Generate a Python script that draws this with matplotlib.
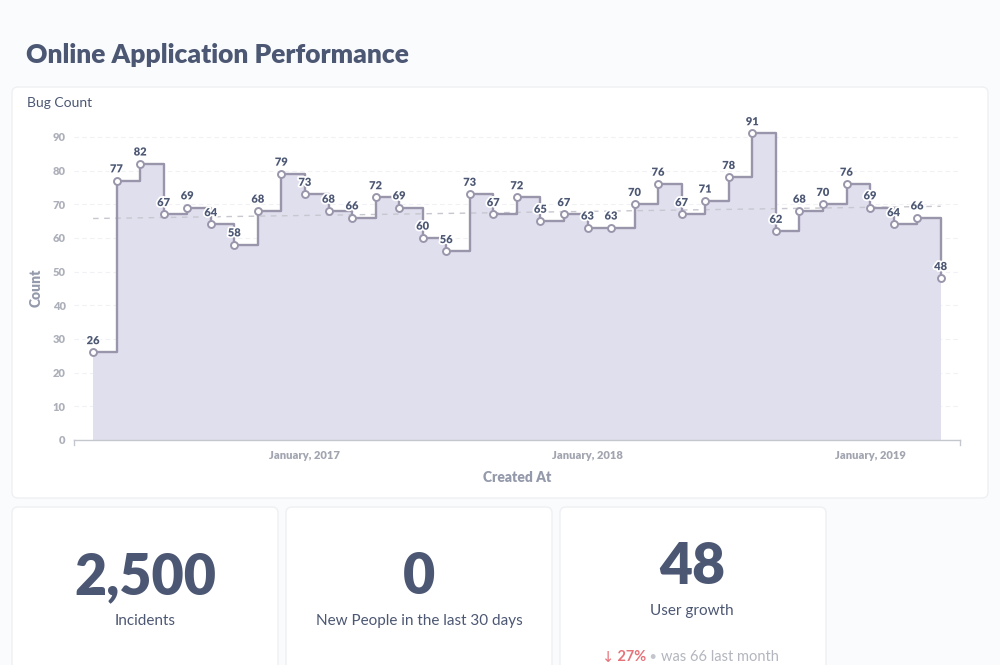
import numpy as np
import pandas as pd
import matplotlib
matplotlib.use("Agg")
import matplotlib.pyplot as plt
from matplotlib.patches import FancyBboxPatch
import matplotlib.patheffects as pe

plt.rcParams['font.family'] = ['Lato', 'DejaVu Sans']

# dados
months = pd.period_range('2016-04', '2019-04', freq='M')
bug_counts = [26, 77, 82, 67, 69, 64, 58, 68, 79, 73, 68, 66, 72, 69, 60, 56,
              73, 67, 72, 65, 67, 63, 63, 70, 76, 67, 71, 78, 91, 62, 68, 70,
              76, 69, 64, 66, 48]
y_ticks = [0, 10, 20, 30, 40, 50, 60, 70, 80, 90]

incidents = 2500
new_people = 0
user_growth = 48
last_month = 66

# cores
bg_color = '#f9fbfc'
text_dark = '#4c5773'
line_color = '#9996ab'
fill_color = '#e0dfee'
axis_gray = '#adb0ba'
red = '#e5737a'

fig = plt.figure(figsize=(10, 6.65), dpi=100, facecolor=bg_color)

# eixo de fundo em pixels
bg = fig.add_axes([0, 0, 1, 1])
bg.set_xlim(0, 1000)
bg.set_ylim(665, 0)
bg.axis('off')


def card(x0, y0, x1, y1):
    bg.add_patch(FancyBboxPatch((x0, y0), x1 - x0, y1 - y0,
                                boxstyle='round,pad=0,rounding_size=6',
                                fc='white', ec='#eef0f3', lw=1))


card(12, 87, 988, 498)
card(12, 507, 278, 700)
card(286, 507, 552, 700)
card(560, 507, 826, 700)

bg.text(26, 55, 'Online Application Performance', fontsize=19, fontweight='heavy',
        color=text_dark, va='center', ha='left')
bg.text(27, 103, 'Bug Count', fontsize=10, color=text_dark, va='center', ha='left')

# cartões de números
bg.text(145, 577, f'{incidents:,}', fontsize=40, fontweight='heavy', color=text_dark,
        ha='center', va='center')
bg.text(145, 621, 'Incidents', fontsize=11, color=text_dark, ha='center', va='center')

bg.text(419, 577, f'{new_people:,}', fontsize=40, fontweight='heavy', color=text_dark,
        ha='center', va='center')
bg.text(419, 621, 'New People in the last 30 days', fontsize=11, color=text_dark,
        ha='center', va='center')

bg.text(692, 567, f'{user_growth:,}', fontsize=41, fontweight='heavy', color=text_dark,
        ha='center', va='center')
bg.text(692, 611, 'User growth', fontsize=11, color=text_dark, ha='center', va='center')

change = round((user_growth - last_month) / last_month * 100)
t1 = bg.text(602, 657, '↓', fontsize=10.5, color=red, ha='left', va='center',
             family=['DejaVu Sans'])
t2 = bg.annotate(f' {abs(change)}%', xy=(1, 0.5), xycoords=t1, fontsize=10.5,
                 fontweight='bold', color=red, va='center', ha='left')
t3 = bg.annotate(' • ', xy=(1, 0.5), xycoords=t2, fontsize=9.5, color='#c3c6cd',
                 va='center', ha='left')
bg.annotate(f'was {last_month} last month', xy=(1, 0.5), xycoords=t3, fontsize=10.5,
            color='#b3b6be', va='center', ha='left')

# gráfico principal
ax = fig.add_axes([74 / 1000, 1 - 440 / 665, 886 / 1000, 320 / 665])
ax.patch.set_alpha(0)
x = np.arange(len(bug_counts))
y = np.array(bug_counts)

ax.fill_between(x, y, 0, step='post', color=fill_color, lw=0, zorder=1)
ax.step(x, y, where='post', color=line_color, lw=1.7, zorder=3)

# tendência
coef = np.polyfit(x, y, 1)
ax.plot([x[0], x[-1]], np.polyval(coef, [x[0], x[-1]]), color='#c6c7cf', lw=1,
        dashes=(4, 4), zorder=2)

ax.plot(x, y, 'o', ms=5, mfc='white', mec=line_color, mew=1.4, zorder=4)

for xi, v in zip(x, bug_counts):
    ax.annotate(str(v), (xi, v), xytext=(0, 4.5), textcoords='offset points',
                ha='center', va='bottom', fontsize=8, fontweight='heavy',
                color=text_dark, zorder=5,
                path_effects=[pe.withStroke(linewidth=2.5, foreground='white')])

ax.set_xlim(-0.81, 36.82)
ax.set_ylim(0, 95)
ax.set_yticks(y_ticks)
ax.set_yticklabels([str(t) for t in y_ticks])
jan = [i for i, m in enumerate(months) if m.month == 1]
ax.set_xticks(jan)
ax.set_xticklabels([months[i].strftime('January, %Y') for i in jan])
ax.tick_params(axis='both', length=0, labelsize=8, labelcolor=axis_gray)
ax.tick_params(axis='y', pad=6)
ax.tick_params(axis='x', pad=7, labelcolor='#a2a5b0')
for lbl in ax.get_xticklabels() + ax.get_yticklabels():
    lbl.set_fontweight('heavy')

ax.grid(axis='y', color='#f0f1f4', lw=0.8, dashes=(4, 3))
ax.set_axisbelow(True)
for s in ['top', 'right', 'left']:
    ax.spines[s].set_visible(False)
ax.spines['bottom'].set_color('#c5c7cf')
ax.spines['bottom'].set_linewidth(1)

# pequenos traços nas pontas do eixo x
for xe in (0, 1):
    ax.plot([xe, xe], [0, -0.016], transform=ax.transAxes, color='#c5c7cf', lw=1,
            clip_on=False)

ax.set_ylabel('Count', fontsize=10, fontweight='heavy', color='#949aab')
ax.yaxis.set_label_coords(-0.035, 0.475)
ax.set_xlabel('Created At', fontsize=10, fontweight='heavy', color='#949aab')
ax.xaxis.set_label_coords(0.5, -0.097)

fig.savefig('out.png', dpi=100, facecolor=bg_color)
